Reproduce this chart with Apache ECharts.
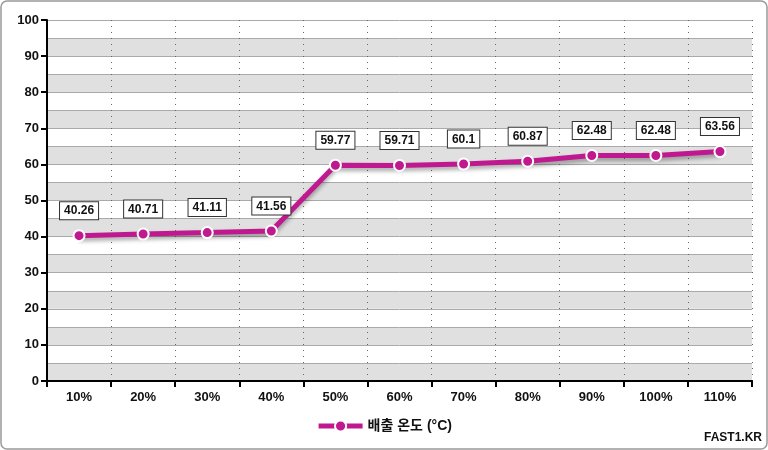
<!DOCTYPE html>
<html><head><meta charset="utf-8">
<script src="https://cdn.jsdelivr.net/npm/echarts@6/dist/echarts.min.js"></script>
<style>html,body{margin:0;padding:0;background:#fff}#c{width:768px;height:450px}</style>
</head><body><div id="c"></div>
<script>
const categories = ['10%','20%','30%','40%','50%','60%','70%','80%','90%','100%','110%'];
const seriesName = '배출 온도 (°C)';
const values = [40.26,40.71,41.11,41.56,59.77,59.71,60.1,60.87,62.48,62.48,63.56];
const font = 'Liberation Sans, Noto Sans CJK KR, sans-serif';
const chart = echarts.init(document.getElementById('c'));
chart.setOption({
  animation:false,
  textStyle:{fontFamily:font},
  graphic:[{type:'rect',shape:{x:1,y:1,width:766,height:448,r:6},style:{fill:'none',stroke:'#999',lineWidth:1.5},z:-1},
           {type:'text',right:6,bottom:6,style:{text:'FAST1.KR',font:'bold 12px '+font,fill:'#111'}}],
  grid:{left:47,right:16,top:20,bottom:69},
  legend:{bottom:12,left:'center',itemWidth:44,itemHeight:14,textStyle:{fontSize:14,fontWeight:'bold',color:'#111',fontFamily:font},
    lineStyle:{width:5},data:[seriesName]},
  xAxis:{type:'category',data:categories,boundaryGap:true,
    axisLine:{lineStyle:{color:'#000',width:2}},
    axisTick:{show:true,length:6,lineStyle:{color:'#000',width:2}},
    axisLabel:{color:'#111',fontWeight:'bold',fontSize:13,margin:10},
    splitLine:{show:true,lineStyle:{color:'#666',type:[1,5],width:1}}},
  yAxis:[{type:'value',min:0,max:100,interval:5,
    axisLine:{show:true,lineStyle:{color:'#000',width:2}},
    axisTick:{show:false},axisLabel:{show:false},
    splitLine:{show:true,lineStyle:{color:'#aaa',width:1}},
    splitArea:{show:true,areaStyle:{color:['#e0e0e0','#ffffff']}}},
   {type:'value',min:0,max:100,interval:10,position:'left',
    axisLine:{show:false},
    axisTick:{show:true,length:6,lineStyle:{color:'#000',width:2}},
    axisLabel:{color:'#111',fontWeight:'bold',fontSize:13,margin:8},
    splitLine:{show:false}}],
  series:[{name:seriesName,type:'line',data:values,yAxisIndex:0,
    symbol:'circle',symbolSize:11,
    lineStyle:{color:'#c0198f',width:5,shadowColor:'rgba(0,0,0,0.35)',shadowBlur:4,shadowOffsetY:3},
    itemStyle:{color:'#c0198f',borderColor:'#fff',borderWidth:2},
    label:{show:true,position:'top',distance:10,color:'#111',fontWeight:'bold',fontSize:12,
      backgroundColor:'#fff',borderColor:'#333',borderWidth:1,padding:[3,4,2,4]}}]
});
</script></body></html>
